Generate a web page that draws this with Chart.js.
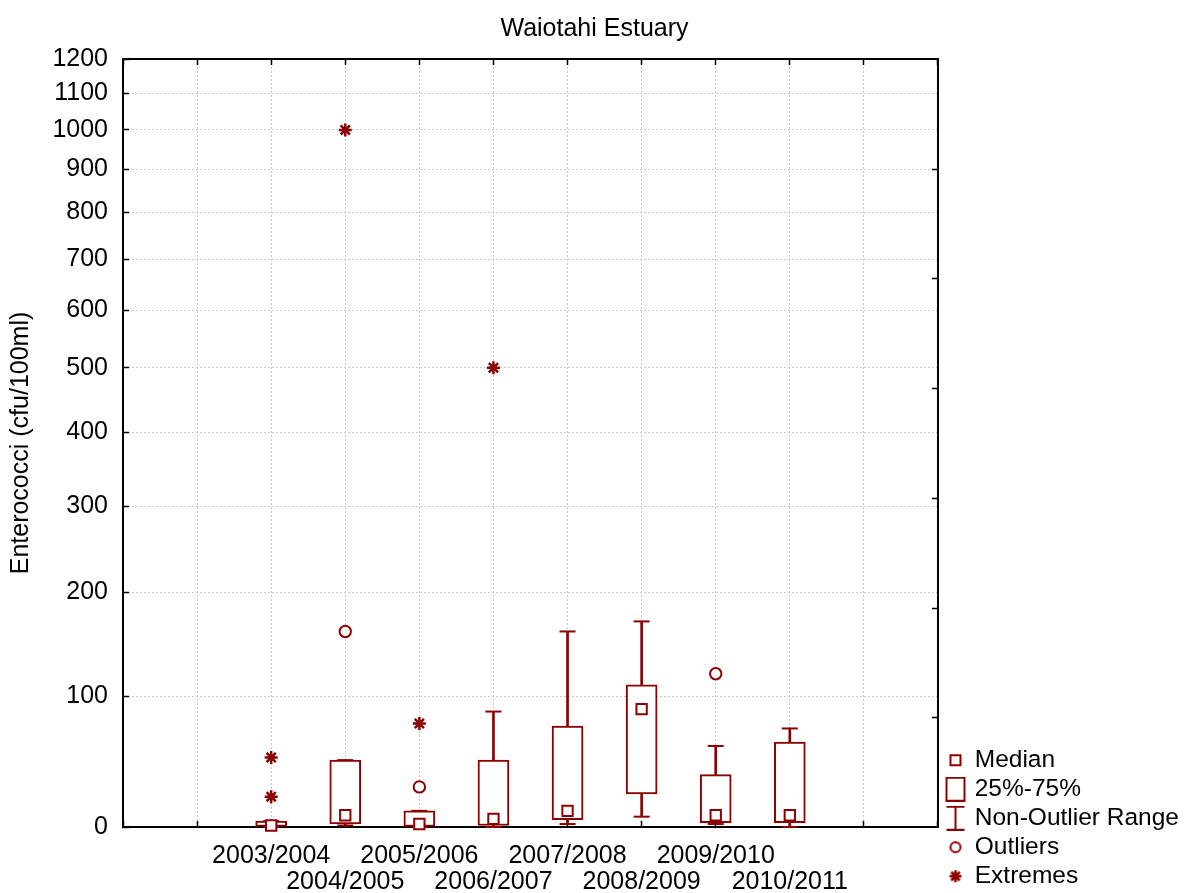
<!DOCTYPE html>
<html>
<head>
<meta charset="utf-8">
<title>Waiotahi Estuary</title>
<script src="https://cdn.jsdelivr.net/npm/chart.js@4.4.1/dist/chart.umd.min.js"></script>
<style>
  html, body { margin: 0; padding: 0; background: #fff; }
</style>
</head>
<body>
<canvas id="box-chart" width="1189" height="893"></canvas>
<script>
// seasons and box plot summaries (cfu/100ml)
const seasons = ['2003/2004', '2004/2005', '2005/2006', '2006/2007', '2007/2008', '2008/2009', '2009/2010', '2010/2011'];
const q1 = [0, 2, 0, 1, 5, 23, 3, 3];
const q3 = [4, 48, 11, 48, 75, 110, 37, 62];
const medians = [1, 8, 2, 5.5, 11, 89, 8, 8];
const whiskerLow = [0, 1, 0, 0, 2, 7, 2, 0];
const whiskerHigh = [4, 48, 11, 87, 160, 170, 59, 73];
const outliers = [[], [160], [28], [], [], [], [120], []];
const extremes = [[21, 50], [1000], [77], [500], [], [], [], []];
const yTicks = [0, 100, 200, 300, 400, 500, 600, 700, 800, 900, 1000, 1100, 1200];
const legendNames = ['Median', '25%-75%', 'Non-Outlier Range', 'Outliers', 'Extremes'];

const red = '#8b0000';
const gridColor = '#c8c8c8';
const yShift = 343; // axis is drawn on log(value + 343)

Chart.defaults.font.family = "'Liberation Sans', Arial, sans-serif";
Chart.defaults.font.size = 25;
Chart.defaults.color = '#000';

class ShiftedLogScale extends Chart.LinearScale {
  buildTicks() {
    return yTicks.map(v => ({ value: v }));
  }
  tf(v) {
    return Math.log(v + yShift);
  }
  getPixelForValue(v) {
    const a = this.tf(this.min), b = this.tf(this.max);
    return this.getPixelForDecimal((this.tf(v) - a) / (b - a));
  }
  getValueForPixel(p) {
    const a = this.tf(this.min), b = this.tf(this.max);
    return Math.exp(a + this.getDecimalForPixel(p) * (b - a)) - yShift;
  }
}
ShiftedLogScale.id = 'shiftedLog';
ShiftedLogScale.defaults = Object.assign({}, Chart.LinearScale.defaults);
Chart.register(ShiftedLogScale);

// right-hand frame with its own unlabelled ticks (7 equal steps)
const rightFrame = {
  id: 'rightFrame',
  beforeDatasetsDraw(chart) {
    const { ctx, chartArea: a } = chart;
    ctx.save();
    ctx.strokeStyle = '#000';
    ctx.lineWidth = 2;
    ctx.beginPath();
    ctx.moveTo(a.right, a.top - 1);
    ctx.lineTo(a.right, a.bottom + 1);
    ctx.stroke();
    ctx.lineWidth = 1.5;
    ctx.beginPath();
    for (let k = 1; k < 7; k++) {
      const y = Math.round(a.bottom - k * (a.bottom - a.top) / 7) + 0.5;
      ctx.moveTo(a.right, y);
      ctx.lineTo(a.right - 6, y);
    }
    ctx.stroke();
    ctx.restore();
  }
};

// legend symbols, drawn a little right of the image centre
function icon(w, h, draw) {
  const c = document.createElement('canvas');
  c.width = 40;
  c.height = h;
  const ctx = c.getContext('2d');
  ctx.strokeStyle = red;
  ctx.lineWidth = 2;
  ctx.translate(23 - w / 2, 0);
  draw(ctx);
  return c;
}
const legendIcons = [
  icon(14, 14, ctx => ctx.strokeRect(2, 2, 10, 10)),
  icon(20, 25, ctx => ctx.strokeRect(1, 1, 18, 23)),
  icon(20, 25, ctx => {
    ctx.beginPath();
    ctx.moveTo(1, 1); ctx.lineTo(19, 1);
    ctx.moveTo(10, 1); ctx.lineTo(10, 24);
    ctx.moveTo(1, 24); ctx.lineTo(19, 24);
    ctx.stroke();
  }),
  icon(14, 14, ctx => { ctx.beginPath(); ctx.arc(7, 7, 5, 0, Math.PI * 2); ctx.stroke(); }),
  icon(14, 14, ctx => {
    ctx.lineWidth = 2.5;
    ctx.beginPath();
    for (let k = 0; k < 4; k++) {
      const a = k * Math.PI / 4;
      ctx.moveTo(7 - 6 * Math.cos(a), 7 - 6 * Math.sin(a));
      ctx.lineTo(7 + 6 * Math.cos(a), 7 + 6 * Math.sin(a));
    }
    ctx.stroke();
  })
];

const xs = seasons.map((s, i) => i + 2);
const boxData = xs.map((x, i) => ({ x: x, y: [q1[i], q3[i]] }));
const stemData = xs.map((x, i) => ({ x: x, y: [whiskerLow[i], whiskerHigh[i]] }));
const capData = xs.flatMap((x, i) => [{ x: x, y: whiskerLow[i] }, { x: x, y: whiskerHigh[i] }]);
const medianData = xs.map((x, i) => ({ x: x, y: medians[i] }));
const outlierData = xs.flatMap((x, i) => outliers[i].map(v => ({ x: x, y: v })));
const extremeData = xs.flatMap((x, i) => extremes[i].map(v => ({ x: x, y: v })));

new Chart(document.getElementById('box-chart'), {
  type: 'scatter',
  plugins: [rightFrame],
  data: {
    datasets: [
      {
        label: 'Extremes', data: extremeData, pointStyle: 'star', pointRadius: 6.5,
        pointBorderWidth: 2.5, pointBorderColor: red, pointBackgroundColor: red, clip: false
      },
      {
        label: 'Outliers', data: outlierData, pointStyle: 'circle', pointRadius: 5.7,
        pointBorderWidth: 2, pointBorderColor: red, pointBackgroundColor: '#fff', clip: false
      },
      {
        label: 'Median', data: medianData, pointStyle: 'rect', pointRadius: 7.3,
        pointBorderWidth: 2, pointBorderColor: red, pointBackgroundColor: '#fff', clip: false
      },
      {
        type: 'bar', label: '25%-75%', data: boxData, grouped: false, barThickness: 31,
        backgroundColor: '#fff', borderColor: red, borderWidth: 2, borderSkipped: false, clip: false
      },
      {
        label: 'caps', data: capData, pointStyle: 'line', pointRadius: 8,
        pointBorderWidth: 2, pointBorderColor: red, clip: false
      },
      {
        type: 'bar', label: 'Non-Outlier Range', data: stemData, grouped: false, barThickness: 2,
        backgroundColor: red, borderWidth: 0, clip: false
      }
    ]
  },
  options: {
    responsive: false,
    animation: false,
    events: [],
    layout: { padding: { left: 0, right: 0, top: 0, bottom: 0 } },
    scales: {
      x: {
        type: 'linear', position: 'bottom', min: 0, max: 11, offset: false,
        ticks: {
          stepSize: 1, autoSkip: false, minRotation: 0, maxRotation: 0, padding: 22,
          font: { size: 25, lineHeight: 26 / 25 },
          callback: v => {
            const i = v - 2;
            if (i < 0 || i >= seasons.length) return '';
            return i % 2 === 0 ? seasons[i] : ['', seasons[i]];
          }
        },
        grid: { color: gridColor, lineWidth: 1, tickLength: -6, tickColor: '#000', tickWidth: 1.5, offset: false },
        border: { color: '#000', width: 2, dash: [2, 2] },
        afterFit: s => { s.height = 66; }
      },
      xTop: {
        type: 'linear', axis: 'x', position: 'top', min: 0, max: 11, offset: false,
        ticks: { display: false, stepSize: 1 },
        grid: { drawOnChartArea: false, tickLength: -6, tickColor: '#000', tickWidth: 1.5 },
        border: { color: '#000', width: 2 },
        afterFit: s => { s.height = 0; }
      },
      y: {
        type: 'shiftedLog', position: 'left', min: 0, max: 1200,
        ticks: { font: { size: 25 }, padding: 21, callback: v => String(v) },
        grid: { color: gridColor, lineWidth: 1, tickLength: -6, tickColor: '#000', tickWidth: 1.5 },
        border: { color: '#000', width: 2, dash: [2, 2] },
        title: { display: true, text: 'Enterococci (cfu/100ml)', font: { size: 25 }, padding: { top: 6, bottom: 0 } },
        afterFit: s => { s.width = 123; }
      }
    },
    plugins: {
      title: {
        display: true, text: 'Waiotahi Estuary', color: '#000',
        font: { size: 25, weight: 'normal', lineHeight: 1.2 },
        padding: { top: 14, bottom: 15 }
      },
      tooltip: { enabled: false },
      legend: {
        position: 'right', align: 'end', onClick: null,
        labels: {
          usePointStyle: true, pointStyleWidth: 20, boxHeight: 24, padding: 4.5,
          color: '#000', font: { size: 24.5 },
          generateLabels: () => legendNames.map((text, i) => ({
            text: text, pointStyle: legendIcons[i], fillStyle: '#fff', strokeStyle: red,
            lineWidth: 0, hidden: false, fontColor: '#000'
          }))
        }
      }
    }
  }
});
</script>
</body>
</html>
